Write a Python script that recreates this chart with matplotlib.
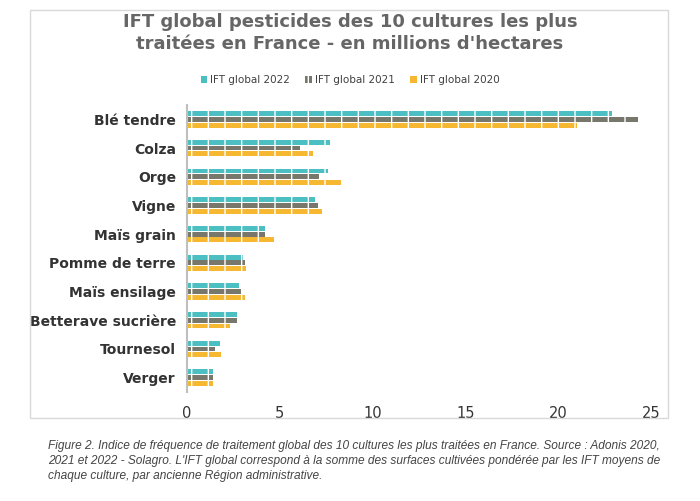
import matplotlib
matplotlib.use("Agg")
import matplotlib.pyplot as plt
import numpy as np
from matplotlib.patches import Rectangle

categories = ["Blé tendre", "Colza", "Orge", "Vigne", "Maïs grain", "Pomme de terre",
              "Maïs ensilage", "Betterave sucrière", "Tournesol", "Verger"]
ift_2022 = [22.9, 7.7, 7.6, 6.9, 4.2, 3.0, 2.8, 2.7, 1.8, 1.4]
ift_2021 = [24.3, 6.1, 7.1, 7.05, 4.2, 3.15, 2.9, 2.7, 1.5, 1.4]
ift_2020 = [21.0, 6.8, 8.3, 7.3, 4.7, 3.2, 3.1, 2.3, 1.85, 1.4]
series = [("IFT global 2022", ift_2022, "#4bbfc1"),
          ("IFT global 2021", ift_2021, "#77786b"),
          ("IFT global 2020", ift_2020, "#f6b731")]

fig = plt.figure(figsize=(7.0, 5.01), dpi=100)
fig.patches.append(Rectangle((30/700, 1-418/501), 638/700, 408/501, transform=fig.transFigure,
                             fill=False, edgecolor="#d9d9d9", lw=1))
ax = fig.add_axes([187/700, 1-392/501, 464/700, 287/501])
y = np.arange(len(categories))
h = 0.2
for i, (lab, vals, col) in enumerate(series):
    ax.barh(y + (i-1)*h, vals, height=h*0.85, color=col, label=lab,
            hatch="|", edgecolor="white", linewidth=0)
ax.set_yticks(y)
ax.set_yticklabels(categories, fontsize=10, fontweight="bold", color="#333333")
ax.set_ylim(len(categories)-0.5, -0.5)
ax.set_xlim(0, 25)
ax.set_xticks([0, 5, 10, 15, 20, 25])
ax.tick_params(axis="x", labelsize=10.5, colors="#333333", length=0, pad=10)
ax.tick_params(axis="y", length=0, pad=8)
for s in ["top", "right", "bottom"]:
    ax.spines[s].set_visible(False)
ax.spines["left"].set_color("#bfbfbf")
ax.spines["left"].set_linewidth(1.5)

fig.text(0.5, 1-33/501, "IFT global pesticides des 10 cultures les plus\ntraitées en France - en millions d'hectares",
         ha="center", va="center", fontsize=13, fontweight="bold", color="#666666",
         linespacing=1.3, family="DejaVu Sans")
fig.legend(loc="center", bbox_to_anchor=(0.5, 1-80/501), ncol=3, frameon=False,
           fontsize=7.5, handlelength=0.6, handleheight=0.6, columnspacing=1.5, handletextpad=0.3,
           labelcolor="#404040")
fig.text(48/700, 1-461/501,
         "Figure 2. Indice de fréquence de traitement global des 10 cultures les plus traitées en France. Source : Adonis 2020,\n"
         "2021 et 2022 - Solagro. L'IFT global correspond à la somme des surfaces cultivées pondérée par les IFT moyens de\n"
         "chaque culture, par ancienne Région administrative.",
         ha="left", va="center", fontsize=8.6, style="italic", color="#444444", linespacing=1.35,
         family="Liberation Sans")
fig.savefig("out.png", dpi=100)
